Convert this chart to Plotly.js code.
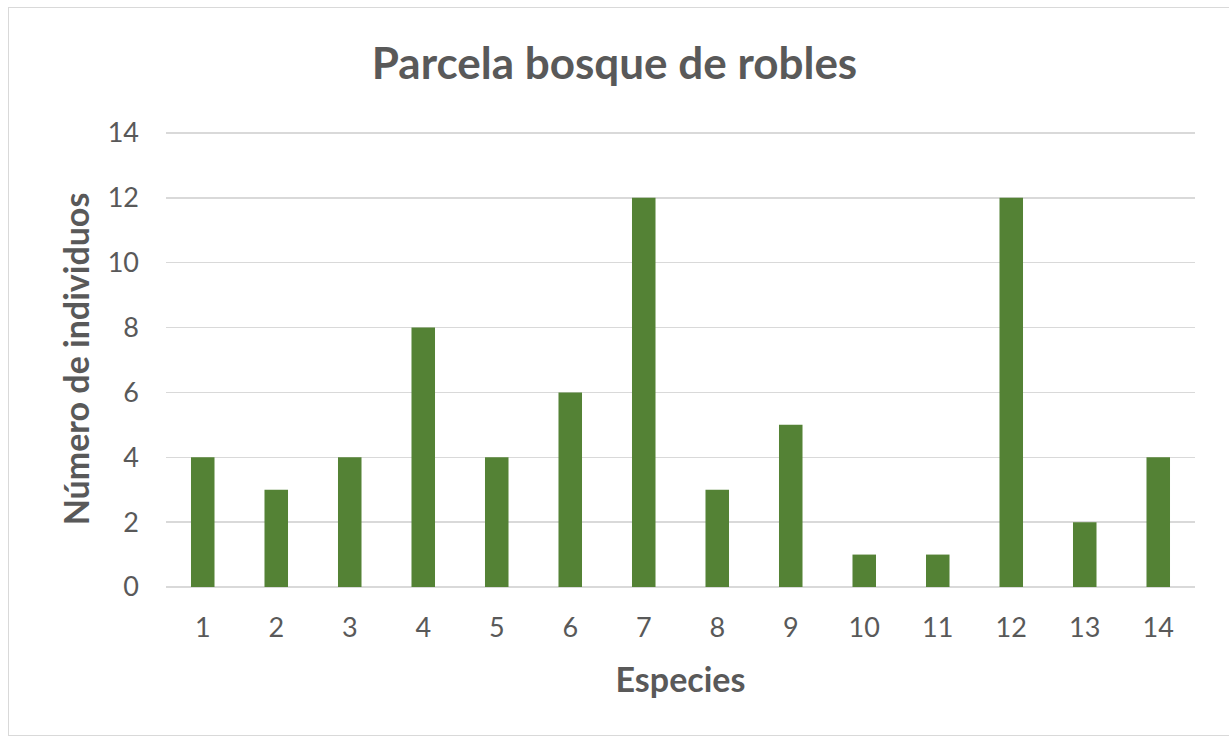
<!DOCTYPE html>
<html>
<head>
<meta charset="utf-8">
<script src="https://cdn.plot.ly/plotly-3.0.1.min.js"></script>
<style>
html,body{margin:0;padding:0;background:#fff;}
#wrap{position:relative;width:1229px;height:737px;}
#chart{position:absolute;left:0;top:0;width:1229px;height:737px;}
#frame{position:absolute;left:8px;top:7px;width:1230px;height:727px;border:1px solid #d9d9d9;pointer-events:none;}
</style>
</head>
<body>
<div id="wrap"><div id="chart"></div><div id="frame"></div></div>
<script>
var species = ["1","2","3","4","5","6","7","8","9","10","11","12","13","14"];
var individuos = [4,3,4,8,4,6,12,3,5,1,1,12,2,4];
var yTicks = [0,2,4,6,8,10,12,14];

var font = "Lato, 'Open Sans', 'Liberation Sans', sans-serif";
var data = [{
  type: "bar",
  x: species,
  y: individuos,
  marker: {color: "#548235", line: {width: 0}},
  hoverinfo: "x+y"
}];
var layout = {
  width: 1229, height: 737,
  margin: {l: 166, r: 34, t: 131, b: 150, pad: 0},
  paper_bgcolor: "rgba(0,0,0,0)",
  plot_bgcolor: "#ffffff",
  bargap: 0.68,
  showlegend: false,
  font: {family: font, color: "#595959"},
  title: {text: "<b>Parcela bosque de robles</b>", font: {size: 44, color: "#595959", family: font}, x: 0.5, xanchor: "center", y: 0.914, yanchor: "middle"},
  xaxis: {
    type: "category",
    tickfont: {size: 27, color: "#595959"},
    showgrid: false, showline: false, zeroline: false,
    ticks: "", ticklen: 0, ticklabelstandoff: 22,
    title: {text: "<b>Especies</b>", font: {size: 34, color: "#595959"}, standoff: 26}
  },
  yaxis: {
    range: [0, 14.06],
    tickvals: yTicks,
    ticktext: yTicks.map(String),
    tickfont: {size: 27, color: "#595959"},
    showgrid: true, gridcolor: "#d9d9d9", gridwidth: 1.5,
    zeroline: true, zerolinecolor: "#d9d9d9", zerolinewidth: 1.5,
    showline: false, ticks: "", ticklabelstandoff: 26,
    title: {text: "<b>Número de individuos</b>", font: {size: 34, color: "#595959"}, standoff: 7}
  }
};
Plotly.newPlot("chart", data, layout, {displayModeBar: false, staticPlot: true});
</script>
</body>
</html>
